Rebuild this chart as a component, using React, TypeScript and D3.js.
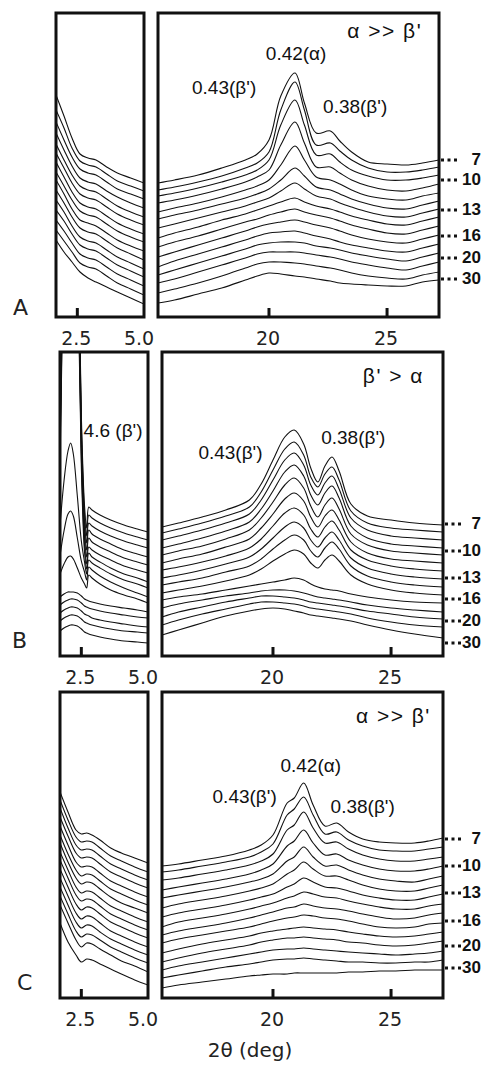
import { useRef, useEffect } from "react";
import * as d3 from "d3";

// 2θ sampling (deg) for each box; traces are stacked intensities (a.u.), top trace (7) first
const lowDomain = [1.7, 5.0];
const wideDomain = [15.3, 27.2];

const lowAngleA = [1.7, 2.0, 2.3, 2.6, 2.9, 3.2, 3.6, 4.0, 4.5, 5.0];
const lowTracesA = [
  [222, 201, 179, 163, 159, 157, 150, 144, 139, 134],
  [207, 189, 169, 156, 152, 150, 143, 136, 131, 126],
  [195, 177, 160, 148, 144, 142, 135, 128, 123, 118],
  [184, 167, 151, 139, 135, 133, 126, 120, 114, 109],
  [173, 157, 142, 131, 127, 125, 118, 111, 105, 100],
  [164, 149, 134, 123, 119, 117, 110, 103, 97, 92],
  [155, 140, 125, 114, 110, 108, 101, 94, 88, 83],
  [145, 131, 117, 106, 102, 100, 93, 86, 80, 75],
  [137, 123, 108, 97, 94, 91, 84, 77, 71, 66],
  [127, 114, 100, 89, 85, 83, 76, 69, 63, 57],
  [117, 105, 91, 80, 76, 74, 67, 60, 54, 48],
  [107, 96, 83, 72, 68, 66, 59, 52, 46, 40],
  [97, 86, 74, 63, 59, 57, 50, 43, 37, 31],
  [87, 76, 65, 54, 50, 48, 41, 34, 28, 22],
  [77, 65, 55, 45, 39, 35, 30, 25, 19, 13],
];
const wideAngleA = [15.3, 16, 17, 18, 19, 19.5, 20, 20.5, 21.1, 21.5, 22, 22.6, 23, 23.5, 24.2, 25, 25.8, 26.5, 27.2];
const wideTracesA = [
  [134, 137, 142, 149, 157, 163, 177, 221, 244, 214, 184, 186, 176, 165, 155, 153, 152, 154, 157],
  [127, 130, 135, 141, 149, 154, 165, 207, 235, 207, 172, 174, 166, 157, 149, 145, 145, 147, 150],
  [121, 124, 129, 135, 142, 147, 157, 192, 217, 192, 162, 163, 155, 147, 141, 137, 137, 139, 142],
  [114, 117, 122, 128, 135, 140, 147, 172, 195, 174, 150, 150, 144, 137, 131, 127, 126, 129, 133],
  [105, 109, 114, 120, 127, 131, 137, 152, 171, 157, 140, 137, 133, 127, 121, 118, 117, 121, 124],
  [98, 102, 107, 113, 119, 123, 128, 137, 149, 141, 130, 127, 123, 118, 113, 109, 108, 112, 116],
  [89, 93, 99, 105, 111, 115, 119, 126, 134, 128, 121, 118, 114, 110, 105, 101, 100, 104, 108],
  [79, 84, 90, 97, 103, 107, 111, 115, 119, 115, 111, 108, 105, 101, 97, 93, 92, 96, 100],
  [70, 75, 81, 88, 95, 98, 102, 105, 108, 105, 102, 99, 96, 92, 88, 84, 83, 87, 91],
  [60, 65, 72, 79, 86, 90, 93, 95, 97, 95, 92, 89, 86, 82, 78, 75, 74, 78, 82],
  [50, 56, 63, 70, 77, 81, 84, 85, 86, 84, 81, 78, 75, 72, 69, 66, 65, 69, 73],
  [42, 47, 54, 61, 68, 72, 74, 75, 75, 74, 71, 69, 67, 64, 61, 58, 56, 60, 64],
  [34, 38, 45, 52, 59, 63, 65, 65, 65, 64, 62, 60, 58, 55, 52, 49, 47, 51, 55],
  [24, 28, 34, 41, 49, 53, 55, 55, 54, 53, 51, 49, 47, 44, 41, 39, 38, 42, 45],
  [14, 17, 23, 29, 37, 41, 44, 43, 41, 40, 38, 36, 34, 33, 32, 31, 31, 35, 37],
];

const lowAngleB = [1.7, 1.85, 2.0, 2.1, 2.2, 2.35, 2.5, 2.62, 2.7, 2.78, 2.9, 3.2, 3.6, 4.1, 4.6, 5.0];
const lowTracesB = [
  [250, 520, 800, 850, 800, 480, 240, 150, 128, 149, 146, 141, 136, 131, 127, 124],
  [240, 505, 780, 830, 780, 470, 232, 142, 120, 141, 138, 133, 128, 123, 119, 116],
  [230, 490, 760, 810, 760, 460, 224, 134, 113, 133, 130, 125, 120, 115, 111, 108],
  [220, 475, 740, 790, 740, 450, 216, 126, 106, 126, 122, 117, 112, 106, 102, 99],
  [210, 460, 720, 770, 720, 440, 208, 119, 99, 118, 114, 109, 104, 98, 94, 91],
  [200, 445, 700, 750, 700, 430, 200, 111, 92, 109, 106, 101, 96, 90, 86, 83],
  [190, 430, 680, 730, 680, 420, 190, 104, 87, 103, 99, 94, 88, 82, 78, 74],
  [130, 175, 205, 213, 202, 160, 115, 94, 82, 96, 93, 88, 82, 76, 72, 68],
  [100, 125, 142, 145, 140, 118, 95, 84, 76, 89, 86, 80, 74, 68, 63, 59],
  [82, 92, 99, 100, 97, 88, 78, 72, 68, 81, 78, 72, 66, 61, 57, 53],
  [59, 62, 64, 64, 64, 63, 60, 57, 56, 55, 54, 52, 50, 48, 46, 44],
  [51, 54, 56, 57, 57, 56, 53, 50, 49, 48, 47, 45, 43, 41, 39, 38],
  [43, 46, 48, 49, 49, 48, 45, 42, 41, 40, 38, 36, 34, 32, 30, 29],
  [35, 38, 40, 41, 41, 40, 37, 34, 33, 32, 31, 29, 27, 25, 24, 23],
  [25, 28, 30, 31, 31, 30, 27, 24, 23, 22, 21, 19, 17, 15, 14, 13],
];
const wideAngleB = [15.3, 16, 17, 18, 19, 19.5, 20, 20.5, 20.9, 21.3, 21.6, 21.9, 22.2, 22.5, 22.8, 23.3, 24, 25, 26, 27.2];
const wideTracesB = [
  [129, 133, 139, 146, 156, 172, 196, 219, 226, 212, 188, 174, 190, 199, 185, 152, 140, 136, 133, 131],
  [123, 127, 133, 140, 149, 164, 186, 207, 214, 201, 179, 169, 182, 189, 176, 145, 133, 128, 126, 124],
  [116, 120, 126, 133, 142, 156, 176, 196, 203, 191, 171, 161, 173, 180, 167, 138, 126, 120, 118, 116],
  [108, 112, 118, 125, 134, 147, 165, 184, 191, 180, 161, 151, 163, 170, 158, 130, 118, 112, 110, 108],
  [101, 105, 110, 117, 126, 138, 154, 171, 178, 168, 150, 139, 151, 158, 147, 122, 111, 105, 103, 101],
  [93, 97, 102, 109, 117, 128, 142, 157, 163, 155, 139, 129, 140, 146, 136, 114, 103, 97, 95, 93],
  [86, 89, 94, 100, 108, 117, 130, 143, 148, 141, 127, 119, 129, 135, 126, 106, 96, 90, 87, 85],
  [78, 81, 86, 92, 99, 107, 118, 129, 134, 128, 116, 109, 118, 124, 116, 98, 88, 82, 79, 77],
  [71, 74, 78, 84, 90, 97, 107, 116, 121, 116, 105, 99, 108, 114, 107, 90, 80, 74, 71, 69],
  [63, 66, 70, 75, 81, 87, 95, 102, 106, 102, 93, 88, 96, 101, 95, 81, 72, 66, 63, 61],
  [56, 59, 62, 66, 70, 72, 74, 76, 78, 76, 72, 69, 67, 66, 65, 62, 59, 56, 54, 53],
  [48, 52, 56, 60, 63, 65, 66, 66, 65, 63, 61, 59, 58, 57, 56, 54, 51, 48, 46, 44],
  [39, 44, 49, 54, 58, 60, 60, 59, 58, 56, 54, 53, 52, 51, 50, 48, 45, 42, 39, 37],
  [31, 36, 42, 47, 52, 54, 54, 53, 52, 50, 48, 47, 46, 45, 44, 42, 38, 34, 31, 29],
  [21, 26, 33, 40, 45, 47, 48, 47, 45, 43, 41, 40, 39, 38, 37, 35, 31, 26, 22, 18],
];

const lowAngleC = [1.7, 2.0, 2.3, 2.5, 2.7, 2.9, 3.2, 3.6, 4.0, 4.5, 5.0];
const lowTracesC = [
  [206, 186, 168, 164, 165, 163, 158, 150, 145, 140, 135],
  [198, 178, 161, 156, 157, 156, 150, 142, 137, 131, 126],
  [190, 170, 153, 148, 149, 148, 142, 134, 129, 123, 118],
  [181, 162, 145, 140, 141, 140, 134, 126, 121, 115, 110],
  [172, 153, 136, 131, 132, 131, 125, 117, 112, 106, 101],
  [163, 144, 128, 122, 124, 123, 117, 109, 104, 98, 93],
  [155, 136, 120, 114, 116, 115, 109, 101, 95, 90, 85],
  [146, 128, 111, 105, 107, 106, 100, 92, 87, 81, 76],
  [138, 120, 103, 97, 99, 98, 92, 84, 79, 73, 68],
  [129, 111, 94, 88, 91, 90, 84, 76, 71, 65, 60],
  [120, 102, 85, 79, 82, 81, 75, 67, 62, 56, 51],
  [111, 93, 76, 70, 73, 72, 66, 59, 54, 48, 43],
  [102, 84, 67, 61, 64, 63, 58, 51, 46, 40, 35],
  [93, 75, 58, 51, 55, 54, 49, 43, 37, 32, 26],
  [75, 56, 43, 36, 39, 38, 34, 29, 24, 18, 13],
];
const wideAngleC = [15.3, 16, 17, 18, 19, 19.5, 20, 20.6, 20.9, 21.3, 21.7, 22.2, 22.7, 23.2, 23.8, 24.5, 25.2, 26, 26.6, 27.2];
const wideTracesC = [
  [132, 134, 138, 142, 148, 153, 163, 195, 200, 215, 193, 172, 175, 166, 159, 156, 155, 155, 157, 160],
  [126, 128, 132, 136, 141, 146, 154, 183, 189, 201, 183, 164, 166, 158, 152, 148, 147, 147, 149, 151],
  [118, 120, 124, 128, 133, 137, 144, 168, 173, 186, 170, 155, 156, 149, 143, 139, 137, 137, 139, 141],
  [108, 111, 115, 119, 124, 128, 134, 152, 157, 168, 155, 143, 144, 138, 133, 129, 127, 127, 129, 132],
  [100, 103, 107, 111, 116, 119, 124, 137, 141, 151, 141, 132, 133, 128, 123, 119, 117, 116, 119, 122],
  [90, 94, 98, 102, 107, 110, 114, 124, 128, 136, 129, 122, 122, 118, 113, 109, 107, 107, 110, 113],
  [81, 85, 89, 93, 98, 101, 104, 111, 114, 120, 116, 111, 110, 107, 103, 100, 98, 98, 101, 104],
  [71, 76, 80, 84, 89, 92, 95, 100, 102, 106, 104, 101, 100, 97, 94, 91, 89, 89, 92, 94],
  [63, 67, 71, 75, 80, 83, 86, 90, 91, 94, 92, 90, 89, 87, 84, 81, 79, 80, 83, 85],
  [55, 59, 63, 67, 71, 74, 77, 80, 81, 83, 82, 80, 79, 77, 74, 71, 70, 71, 74, 75],
  [45, 49, 54, 58, 62, 65, 67, 69, 70, 71, 70, 69, 68, 66, 64, 62, 61, 62, 64, 66],
  [36, 40, 45, 49, 53, 56, 58, 60, 60, 61, 60, 59, 58, 56, 55, 53, 52, 53, 55, 57],
  [28, 32, 36, 40, 44, 46, 48, 49, 49, 50, 49, 48, 47, 46, 45, 44, 43, 44, 45, 47],
  [20, 23, 27, 31, 34, 36, 38, 39, 39, 40, 39, 38, 37, 36, 36, 35, 35, 36, 36, 38],
  [10, 13, 16, 19, 22, 23, 24, 24, 25, 25, 25, 25, 25, 26, 26, 27, 27, 28, 28, 28],
];

// storage time labels on the right side, with the intensity level they sit at
const dayLabels = ["7", "10", "13", "16", "20", "30"];
const dayLevelsA = [158, 138, 108, 82, 60, 39];
const dayLevelsB = [133, 106, 79, 58, 36, 14];
const dayLevelsC = [160, 133, 106, 78, 53, 31];

const notesA = [
  { box: "wide", at: 24.9, level: 286, text: "α >> β'", big: true },
  { box: "wide", at: 21.15, level: 264, text: "0.42(α)" },
  { box: "wide", at: 18.1, level: 230, text: "0.43(β')" },
  { box: "wide", at: 23.65, level: 211, text: "0.38(β')" },
];
const notesB = [
  { box: "wide", at: 25.1, level: 280, text: "β' > α", big: true },
  { box: "wide", at: 18.2, level: 204, text: "0.43(β')" },
  { box: "wide", at: 23.4, level: 219, text: "0.38(β')" },
  { box: "low", at: 3.69, level: 226, text: "4.6 (β')" },
];
const notesC = [
  { box: "wide", at: 25.1, level: 282, text: "α >> β'", big: true },
  { box: "wide", at: 21.6, level: 233, text: "0.42(α)" },
  { box: "wide", at: 18.8, level: 202, text: "0.43(β')" },
  { box: "wide", at: 23.8, level: 192, text: "0.38(β')" },
];

const panels = [
  { letter: "A", top: 13, bottom: 317, shift: -3, letterX: 13, letterDy: -2,
    lowX: lowAngleA, low: lowTracesA, wideX: wideAngleA, wide: wideTracesA, days: dayLevelsA, notes: notesA },
  { letter: "B", top: 352, bottom: 656, shift: 1, letterX: 12, letterDy: -8,
    lowX: lowAngleB, low: lowTracesB, wideX: wideAngleB, wide: wideTracesB, days: dayLevelsB, notes: notesB },
  { letter: "C", top: 692, bottom: 998, shift: 1, letterX: 17, letterDy: -8,
    lowX: lowAngleC, low: lowTracesC, wideX: wideAngleC, wide: wideTracesC, days: dayLevelsC, notes: notesC },
];

const App = () => {
  const svgRef = useRef<SVGSVGElement>(null);

  useEffect(() => {
    const svg = d3.select(svgRef.current);
    svg.selectAll("*").remove();

    const tickFont = "'DejaVu Sans', sans-serif";
    const noteFont = "'Liberation Sans', Arial, sans-serif";

    panels.forEach((p, pi) => {
      const g = svg.append("g");
      const yScale = d3.scaleLinear().domain([0, p.bottom - p.top]).range([p.bottom, p.top]);

      const boxes = [
        {
          id: "low",
          x: d3.scaleLinear().domain(lowDomain).range([59 + p.shift, 147 + p.shift]),
          angles: p.lowX, traces: p.low, ticks: [2.5], labels: [2.5, 5.0],
          fmt: d3.format(".1f"),
        },
        {
          id: "wide",
          x: d3.scaleLinear().domain(wideDomain).range([161 + p.shift, 442 + p.shift]),
          angles: p.wideX, traces: p.wide, ticks: [20, 25], labels: [20, 25],
          fmt: d3.format("d"),
        },
      ];

      boxes.forEach((b) => {
        const [x0, x1] = b.x.range();
        const clipId = `clip-${pi}-${b.id}`;
        svg.append("clipPath").attr("id", clipId)
          .append("rect")
          .attr("x", x0).attr("y", p.top)
          .attr("width", x1 - x0).attr("height", p.bottom - p.top);

        const line = d3.line<number>()
          .x((_, i) => b.x(b.angles[i]))
          .y((v) => yScale(v))
          .curve(d3.curveCatmullRom.alpha(0.5));

        g.append("g")
          .attr("clip-path", `url(#${clipId})`)
          .selectAll("path")
          .data(b.traces)
          .join("path")
          .attr("d", (d) => line(d))
          .attr("fill", "none")
          .attr("stroke", "#111")
          .attr("stroke-width", 1.1)
          .attr("stroke-linejoin", "round");

        g.append("rect")
          .attr("x", x0).attr("y", p.top)
          .attr("width", x1 - x0).attr("height", p.bottom - p.top)
          .attr("fill", "none").attr("stroke", "#111").attr("stroke-width", 3);

        g.selectAll(null)
          .data(b.ticks)
          .join("line")
          .attr("x1", (d) => b.x(d)).attr("x2", (d) => b.x(d))
          .attr("y1", p.bottom).attr("y2", p.bottom - 9)
          .attr("stroke", "#111").attr("stroke-width", 3);

        g.selectAll(null)
          .data(b.labels)
          .join("text")
          .attr("x", (d) => b.x(d) - (d === 5 ? 5 : 1))
          .attr("y", p.bottom + 28)
          .attr("text-anchor", "middle")
          .attr("font-family", tickFont)
          .attr("font-size", 19)
          .attr("fill", "#222")
          .text((d) => b.fmt(d));
      });

      const wideX = boxes[1].x;
      const right = wideX.range()[1];

      // peak / phase annotations
      g.selectAll(null)
        .data(p.notes)
        .join("text")
        .attr("x", (d) => (d.box === "low" ? boxes[0].x : wideX)(d.at))
        .attr("y", (d) => yScale(d.level))
        .attr("dy", "0.35em")
        .attr("text-anchor", "middle")
        .attr("font-family", noteFont)
        .attr("font-size", (d) => (d.big ? 21 : 19))
        .attr("letter-spacing", (d) => (d.big ? 1.5 : 0))
        .attr("fill", "#111")
        .text((d) => d.text);

      // storage-day markers
      const days = g.selectAll(null)
        .data(p.days)
        .join("g")
        .attr("transform", (d) => `translate(0, ${yScale(d)})`);
      [0, 1, 2].forEach((k) => {
        days.append("rect")
          .attr("x", right + 2 + k * 6.5)
          .attr("y", -0.5)
          .attr("width", 3).attr("height", 3)
          .attr("fill", "#111");
      });
      days.append("text")
        .attr("x", 481)
        .attr("dy", "0.35em")
        .attr("text-anchor", "end")
        .attr("font-family", noteFont)
        .attr("font-weight", "bold")
        .attr("font-size", 17)
        .attr("fill", "#111")
        .text((_, i) => dayLabels[i]);

      g.append("text")
        .attr("x", p.letterX)
        .attr("y", p.bottom + p.letterDy)
        .attr("font-family", tickFont)
        .attr("font-size", 22)
        .attr("fill", "#222")
        .text(p.letter);
    });

    svg.append("text")
      .attr("x", 250)
      .attr("y", 1057)
      .attr("text-anchor", "middle")
      .attr("font-family", tickFont)
      .attr("font-size", 20)
      .attr("fill", "#222")
      .text("2θ (deg)");
  }, []);

  return (
    <svg
      ref={svgRef}
      width={489}
      height={1065}
      style={{ position: "absolute", left: 0, top: 0, background: "#fff" }}
    />
  );
};

export default App;
